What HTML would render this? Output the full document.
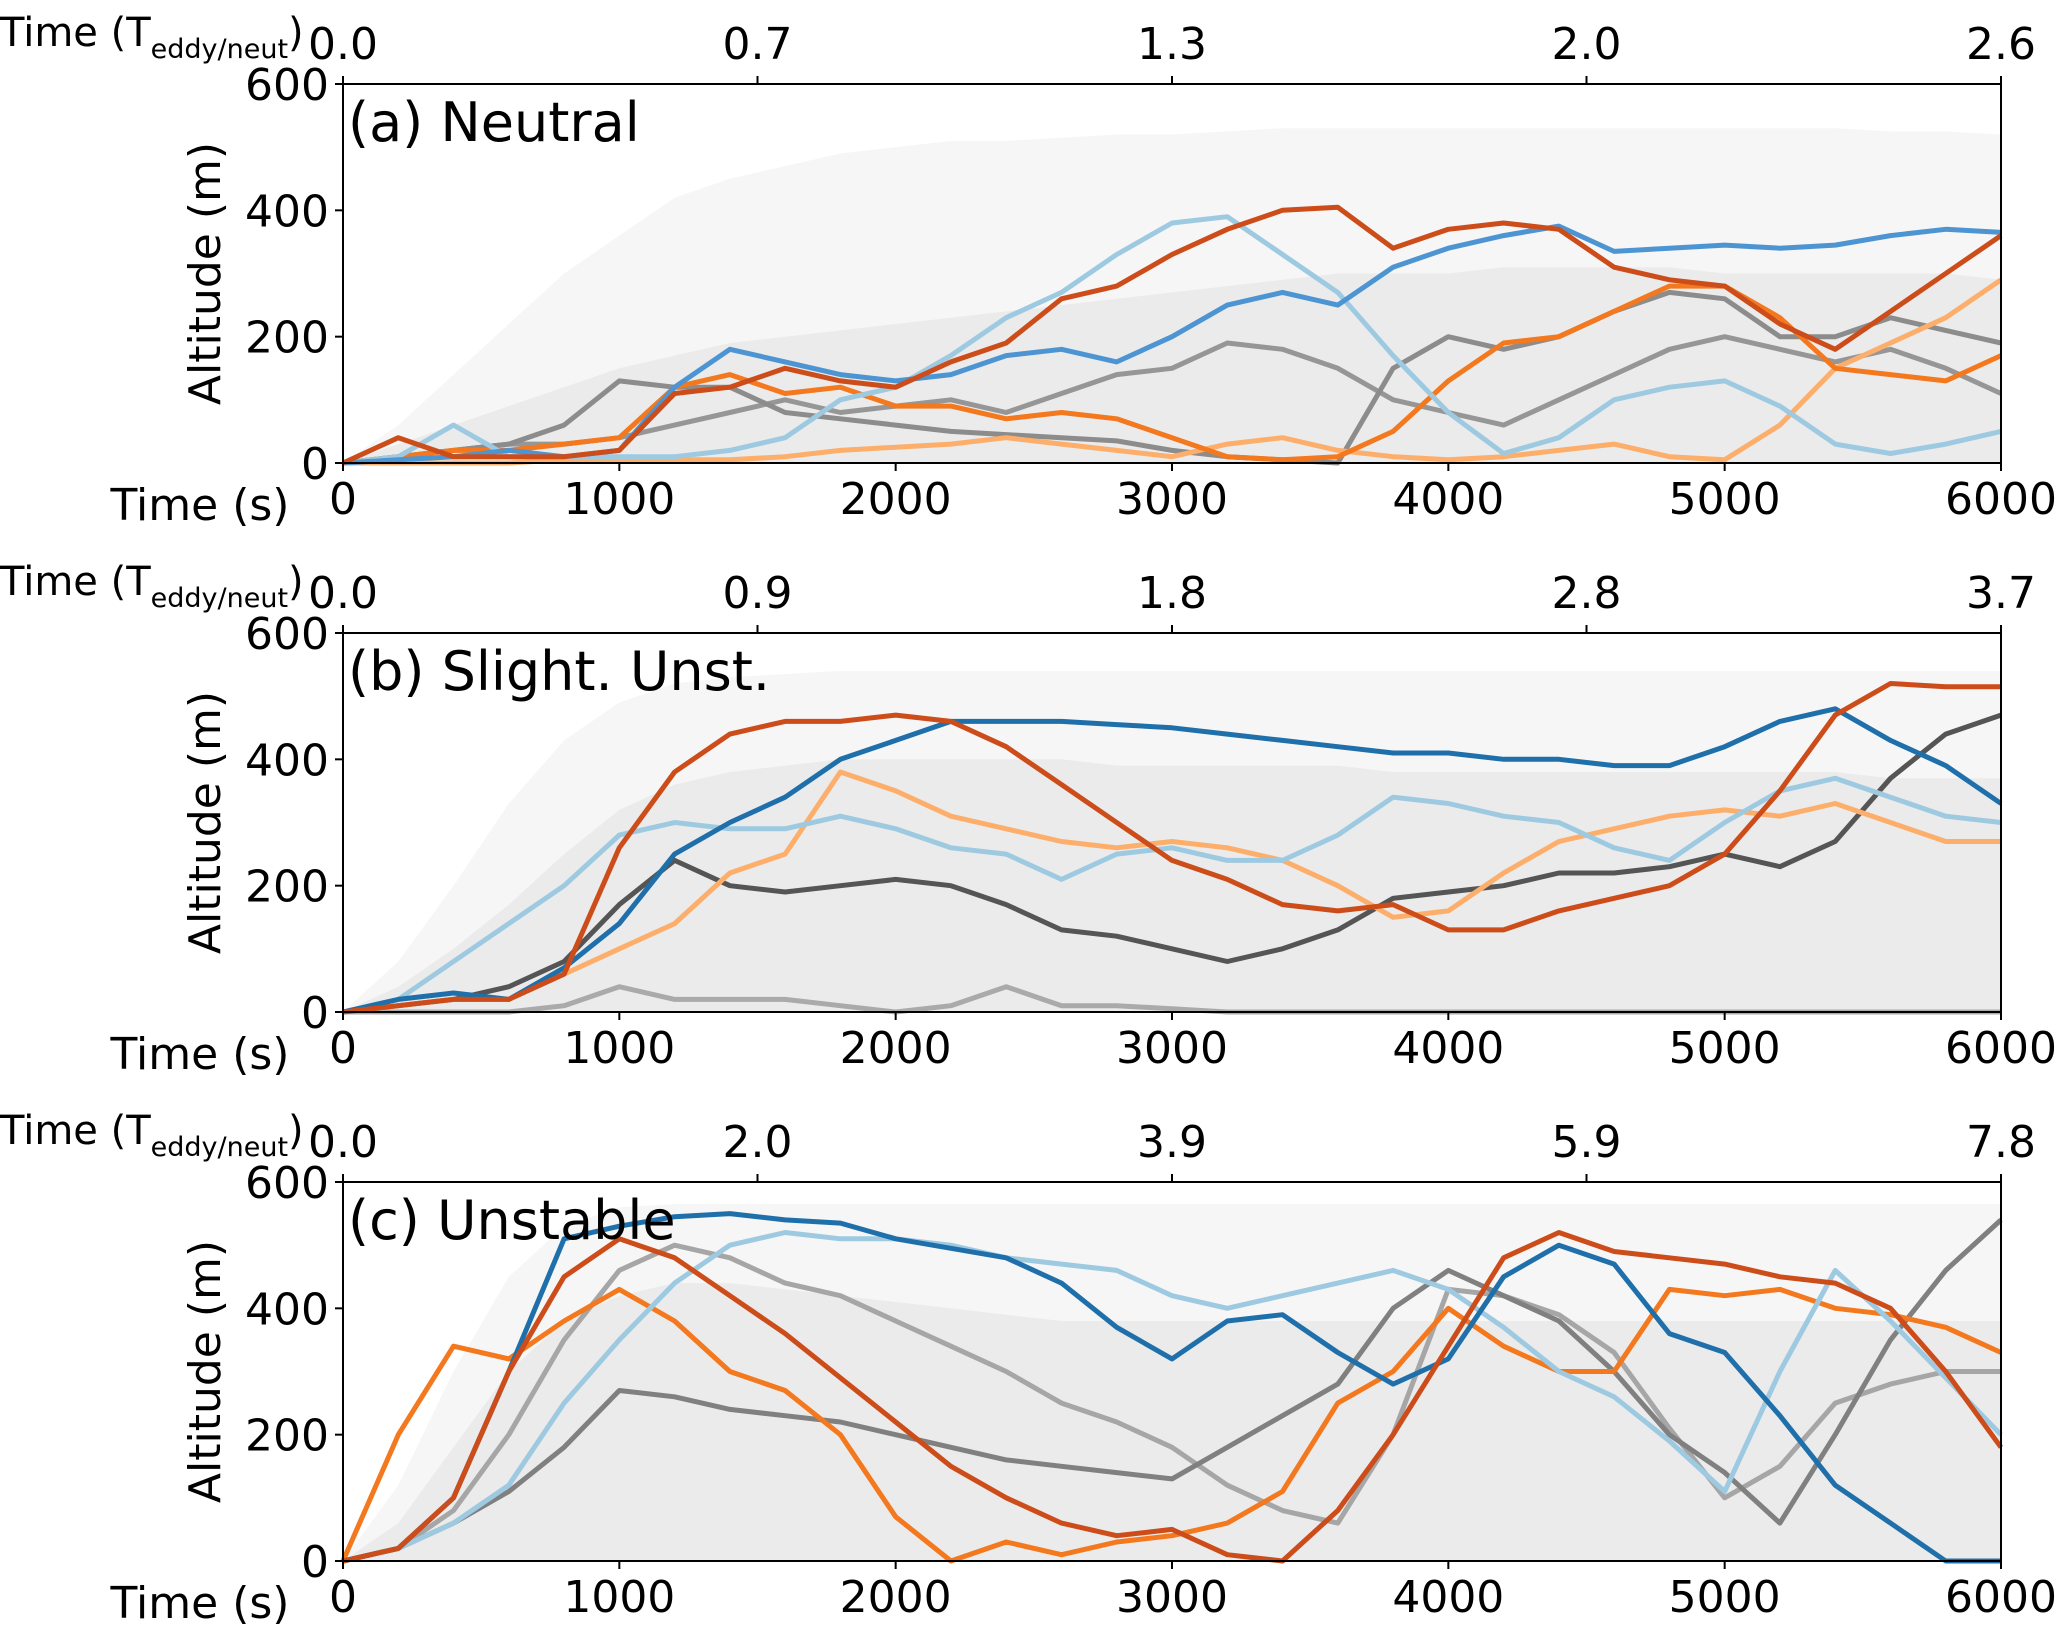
<!DOCTYPE html>
<html><head><meta charset="utf-8"><style>
html,body{margin:0;padding:0;background:#fff;}
svg{display:block;font-family:"DejaVu Sans","Liberation Sans",sans-serif;}
</style></head><body>
<svg id="fig" width="2067" height="1629" viewBox="0 0 2067 1629"></svg>
<script>
// ---------- data ----------
const timeStep = 200; // seconds between samples
const xTicks = [0,1000,2000,3000,4000,5000,6000];
const yTicks = [0,200,400,600];
const topTicksA = ["0.0","0.7","1.3","2.0","2.6"];
const topTicksB = ["0.0","0.9","1.8","2.8","3.7"];
const topTicksC = ["0.0","2.0","3.9","5.9","7.8"];
const titles = ["(a) Neutral","(b) Slight. Unst.","(c) Unstable"];

const cloudOuterA = [0,60,140,220,300,360,420,450,470,490,500,510,510,515,520,520,525,530,530,530,530,530,530,530,530,530,530,530,525,525,520];
const cloudInnerA = [0,30,60,90,120,150,170,190,200,210,220,230,240,250,260,270,280,290,300,300,300,310,310,310,310,300,300,300,300,300,290];
const cloudOuterB = [0,80,200,330,430,490,520,530,535,540,540,540,540,540,540,540,540,540,540,540,540,540,540,540,540,540,540,540,540,540,540];
const cloudInnerB = [0,40,100,170,250,320,360,380,390,400,400,400,400,400,390,390,390,390,390,380,380,380,380,380,380,380,380,380,370,370,370];
const cloudOuterC = [0,120,300,450,530,560,565,565,565,565,565,565,565,565,565,565,565,565,565,565,565,565,565,565,565,565,565,565,565,565,565];
const cloudInnerC = [0,60,180,300,380,420,440,440,430,420,410,400,390,380,380,380,380,380,380,380,380,380,380,380,380,380,380,380,380,380,380];

// panel a
const aGray1 = [0,10,20,30,60,130,120,120,80,70,60,50,45,40,35,20,10,5,0,150,200,180,200,240,270,260,200,200,230,210,190];
const aGray2 = [0,10,20,30,30,40,60,80,100,80,90,100,80,110,140,150,190,180,150,100,80,60,100,140,180,200,180,160,180,150,110];
const aLightOrange = [0,0,0,0,5,5,5,5,10,20,25,30,40,30,20,10,30,40,20,10,5,10,20,30,10,5,60,150,190,230,290];
const aOrange = [0,10,20,20,30,40,120,140,110,120,90,90,70,80,70,40,10,5,10,50,130,190,200,240,280,280,230,150,140,130,170];
const aLightBlue = [0,10,60,10,10,10,10,20,40,100,120,170,230,270,330,380,390,330,270,170,80,15,40,100,120,130,90,30,15,30,50];
const aBlue = [0,5,10,20,10,20,120,180,160,140,130,140,170,180,160,200,250,270,250,310,340,360,375,335,340,345,340,345,360,370,365];
const aDarkOrange = [0,40,10,10,10,20,110,120,150,130,120,160,190,260,280,330,370,400,405,340,370,380,370,310,290,280,220,180,240,300,360];

// panel b
const bGray1 = [0,0,0,0,10,40,20,20,20,10,0,10,40,10,10,5,0,0,0,0,0,0,0,0,0,0,0,0,0,0,0];
const bDarkGray = [0,10,20,40,80,170,240,200,190,200,210,200,170,130,120,100,80,100,130,180,190,200,220,220,230,250,230,270,370,440,470];
const bLightOrange = [0,10,20,20,60,100,140,220,250,380,350,310,290,270,260,270,260,240,200,150,160,220,270,290,310,320,310,330,300,270,270];
const bLightBlue = [0,20,80,140,200,280,300,290,290,310,290,260,250,210,250,260,240,240,280,340,330,310,300,260,240,300,350,370,340,310,300];
const bBlue = [0,20,30,20,70,140,250,300,340,400,430,460,460,460,455,450,440,430,420,410,410,400,400,390,390,420,460,480,430,390,330];
const bDarkOrange = [0,10,20,20,60,260,380,440,460,460,470,460,420,360,300,240,210,170,160,170,130,130,160,180,200,250,350,470,520,515,515];

// panel c
const cGrayLight = [0,20,80,200,350,460,500,480,440,420,380,340,300,250,220,180,120,80,60,200,430,420,390,330,210,100,150,250,280,300,300];
const cGrayDark = [0,20,60,110,180,270,260,240,230,220,200,180,160,150,140,130,180,230,280,400,460,420,380,300,200,140,60,200,350,460,540];
const cOrange = [0,200,340,320,380,430,380,300,270,200,70,0,30,10,30,40,60,110,250,300,400,340,300,300,430,420,430,400,390,370,330];
const cLightBlue = [0,20,60,120,250,350,440,500,520,510,510,500,480,470,460,420,400,420,440,460,430,370,300,260,190,110,300,460,380,290,200];
const cBlue = [0,20,100,300,510,530,545,550,540,535,510,495,480,440,370,320,380,390,330,280,320,450,500,470,360,330,230,120,60,0,0];
const cDarkOrange = [0,20,100,300,450,510,480,420,360,290,220,150,100,60,40,50,10,0,80,200,340,480,520,490,480,470,450,440,400,300,180];

// ---------- drawing ----------
const NS = "http://www.w3.org/2000/svg";
const svg = document.getElementById('fig');
const X0 = 343, X1 = 2001, PH = 379;
const tops = [84, 633, 1182];
function xS(t){ return X0 + t/6000*(X1-X0); }
function mk(tag, attrs, parent){
  const e = document.createElementNS(NS, tag);
  for (const k in attrs) e.setAttribute(k, attrs[k]);
  (parent||svg).appendChild(e);
  return e;
}
function txt(s, x, y, size, anchor, parent){
  const t = mk('text', {x:x, y:y, 'font-size':size, 'text-anchor':anchor||'middle', fill:'#000'}, parent);
  t.textContent = s;
  return t;
}

const panels = [
  {top:topTicksA, outer:cloudOuterA, inner:cloudInnerA, series:[
    [aGray2,'#969696','gray-trajectory-2'],[aGray1,'#8c8c8c','gray-trajectory-1'],
    [aLightOrange,'#fdae6b','light-orange-trajectory'],[aOrange,'#f3781e','orange-trajectory'],
    [aLightBlue,'#9ecae1','light-blue-trajectory'],[aBlue,'#4d94d2','blue-trajectory'],
    [aDarkOrange,'#cc4c1a','dark-orange-trajectory']]},
  {top:topTicksB, outer:cloudOuterB, inner:cloudInnerB, series:[
    [bGray1,'#aaaaaa','gray-trajectory-1'],[bDarkGray,'#555555','dark-gray-trajectory'],
    [bLightOrange,'#fdae6b','light-orange-trajectory'],[bLightBlue,'#9ecae1','light-blue-trajectory'],
    [bBlue,'#1f6fab','blue-trajectory'],[bDarkOrange,'#cc4c1a','dark-orange-trajectory']]},
  {top:topTicksC, outer:cloudOuterC, inner:cloudInnerC, series:[
    [cGrayLight,'#a6a6a6','light-gray-trajectory'],[cGrayDark,'#808080','dark-gray-trajectory'],
    [cOrange,'#f3781e','orange-trajectory'],[cLightBlue,'#9ecae1','light-blue-trajectory'],
    [cBlue,'#1f6fab','blue-trajectory'],[cDarkOrange,'#cc4c1a','dark-orange-trajectory']]}
];

panels.forEach((p, pi) => {
  const T = tops[pi], B = T + PH;
  const yS = v => B - v/600*PH;
  const g = mk('g', {});
  
  

  // background cloud
  [[p.outer,'#f6f6f6','trajectory-cloud-outer'],[p.inner,'#ebebeb','trajectory-cloud-inner']].forEach(c => {
    let d = 'M' + xS(0) + ',' + yS(0);
    c[0].forEach((v,i) => { d += ' L' + xS(i*timeStep).toFixed(1) + ',' + yS(v).toFixed(1); });
    d += ' L' + xS(6000) + ',' + yS(0) + ' Z';
    const e = mk('path', {d:d, fill:c[1], stroke:'none'}, g);
    
    
  });

  // series
  p.series.forEach(s => {
    const pts = s[0].map((v,i) => xS(i*timeStep).toFixed(1) + ',' + yS(v).toFixed(1)).join(' ');
    const e = mk('polyline', {points:pts, fill:'none', stroke:s[1], 'stroke-width':5, 'stroke-linejoin':'round'}, g);
    
    
  });

  // frame
  const fr = mk('rect', {x:X0, y:T, width:X1-X0, height:PH, fill:'none', stroke:'#000', 'stroke-width':2}, g);
  
  

  xTicks.forEach(t => {
    mk('line', {x1:xS(t), x2:xS(t), y1:B, y2:B+8, stroke:'#000', 'stroke-width':2}, g);
    const l = txt(String(t), xS(t), B+51, 44, 'middle', g);
    
    
  });
  p.top.forEach((s, i) => {
    const x = X0 + i*(X1-X0)/4;
    mk('line', {x1:x, x2:x, y1:T, y2:T-8, stroke:'#000', 'stroke-width':2}, g);
    const l = txt(s, x, T-25, 44, 'middle', g);
    
    
  });
  yTicks.forEach(v => {
    mk('line', {x1:X0-8, x2:X0, y1:yS(v), y2:yS(v), stroke:'#000', 'stroke-width':2}, g);
    const l = txt(String(v), X0-14, yS(v)+16, 44, 'end', g);
    
    
  });
  const yl = txt('Altitude (m)', 0, 0, 44, 'middle', g);
  yl.setAttribute('transform', 'translate(220,' + (T+PH/2) + ') rotate(-90)');
  
  

  const xl = txt('Time (s)', 200, B+57, 44, 'middle', g);
  
  

  const tl = mk('text', {x:0, y:T-38, 'font-size':40, fill:'#000'}, g);
  tl.innerHTML = 'Time (T<tspan font-size="27" dy="12">eddy/neut</tspan><tspan dy="-12">)</tspan>';
  
  

  const pt = txt(titles[pi], X0+5, T+57, 54, 'start', g);
  
  
});
</script>
</body></html>
